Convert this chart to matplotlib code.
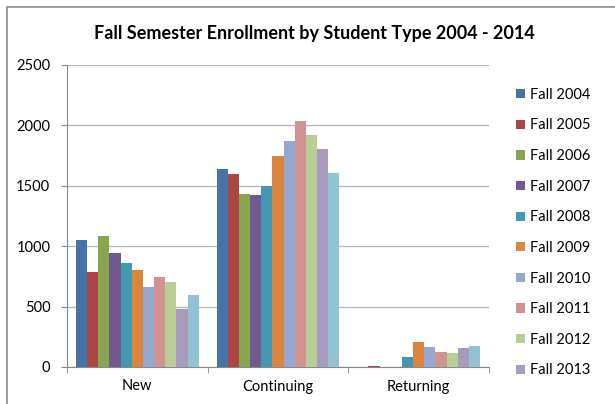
import numpy as np
import matplotlib.pyplot as plt
from matplotlib.patches import Rectangle

# Данные
categories = ['New', 'Continuing', 'Returning']
years = ['Fall 2004', 'Fall 2005', 'Fall 2006', 'Fall 2007', 'Fall 2008', 'Fall 2009',
         'Fall 2010', 'Fall 2011', 'Fall 2012', 'Fall 2013', 'Fall 2014']
new_students = [1050, 785, 1085, 945, 860, 805, 660, 745, 700, 480, 595]
continuing_students = [1642, 1595, 1430, 1422, 1500, 1747, 1873, 2040, 1920, 1802, 1609]
returning_students = [0, 8, 0, 0, 80, 203, 165, 126, 118, 157, 170]
colors = ['#4572A7', '#AA4643', '#89A54E', '#71588F', '#4198AF', '#DB843D',
          '#93A9CF', '#D19392', '#B9CD96', '#A99BBD', '#92C3D4']

values = np.array([new_students, continuing_students, returning_students])  # (3, 11)

plt.rcParams['font.family'] = ['Lato', 'DejaVu Sans']

fig = plt.figure(figsize=(6.15, 4.04), dpi=100)
ax = fig.add_axes([67 / 615, 37 / 404, 422 / 615, 302 / 404])

n = len(years)
bar_w = 1 / (n + 1.58)
x = np.arange(len(categories))
handles = []
for i in range(n):
    b = ax.bar(x + (i - (n - 1) / 2) * bar_w, values[:, i], width=bar_w,
               color=colors[i], label=years[i], zorder=3)
    handles.append(b)

ax.set_xlim(-0.5, 2.5)
ax.set_ylim(0, 2500)
ax.set_yticks(np.arange(0, 2501, 500))
ax.set_xticks(x)
ax.set_xticklabels(categories, fontsize=10.5)
ax.set_xticks([-0.5, 0.5, 1.5, 2.5], minor=True)
ax.tick_params(axis='x', which='major', length=0, pad=9)
ax.tick_params(axis='x', which='minor', length=4, color='#888888', direction='out')
ax.tick_params(axis='y', length=4, color='#888888', labelsize=10.5, pad=8)
ax.grid(axis='y', color='#b8b8b8', lw=1, zorder=0)

for s in ['top', 'right']:
    ax.spines[s].set_visible(False)
for s in ['left', 'bottom']:
    ax.spines[s].set_color('#888888')

fig.text(314 / 615, 1 - 33 / 404, 'Fall Semester Enrollment by Student Type 2004 - 2014',
         ha='center', va='center', fontsize=13, fontweight='bold')

# В легенде видны только первые 10 серий
leg = fig.legend(handles=handles[:10], labels=years[:10], loc='upper left',
                 bbox_to_anchor=(510 / 615, 1 - 82 / 404), frameon=False,
                 fontsize=10.5, handlelength=0.6, handleheight=0.6,
                 handletextpad=0.35, labelspacing=1.14, borderaxespad=0)

# Рамка области диаграммы
fig.patches.append(Rectangle((7 / 615, -0.1), 1.0, 1.1 - 7 / 404, transform=fig.transFigure,
                             fill=False, edgecolor='#8c8c8c', lw=1.2))

fig.savefig('out.png', dpi=100)
